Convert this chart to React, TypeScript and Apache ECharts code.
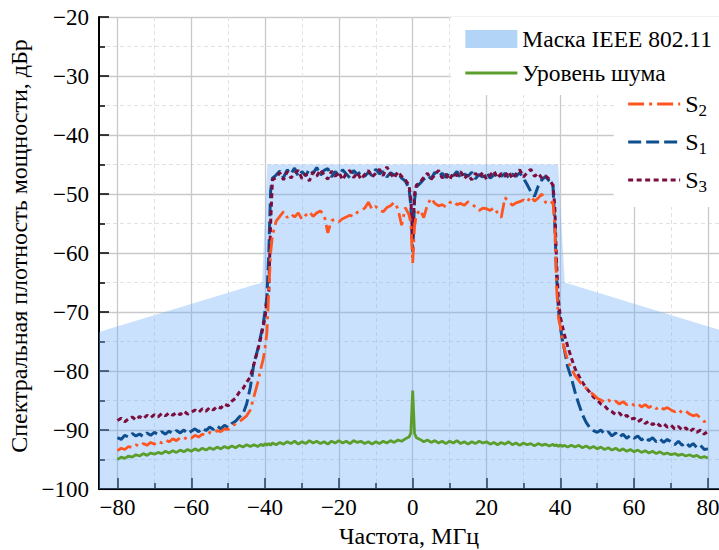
import React, { useEffect, useRef } from "react";
import * as echarts from "echarts";

// Frequency grid (MHz) shared by all measured curves
const freq = [
  -80, -79, -78, -77, -76, -75, -74, -73, -72, -71,
  -70, -69, -68, -67, -66, -65, -64, -63, -62, -61,
  -60, -59, -58, -57, -56, -55, -54, -53, -52, -51,
  -50, -49, -48, -47, -46, -45, -44,
  -43, -42, -41, -40.5, -40, -39.5, -39, -38.5, -38,
  -37, -36, -35, -34, -33, -32, -31, -30, -29, -28,
  -27, -26, -25, -24, -23, -22, -21, -20, -19, -18,
  -17, -16, -15, -14, -13, -12, -11, -10, -9, -8,
  -7, -6, -5, -4, -3, -2,
  -1, -0.5, 0, 0.5, 1,
  2, 3, 4, 5, 6, 7, 8, 9, 10, 11,
  12, 13, 14, 15, 16, 17, 18, 19, 20, 21,
  22, 23, 24, 25, 26, 27, 28, 29, 30, 31,
  32, 33, 34, 35, 36, 37,
  38, 38.5, 39, 39.5, 40, 40.5, 41, 42, 43,
  44, 45, 46, 47, 48, 49, 50, 51, 52, 53,
  54, 55, 56, 57, 58, 59, 60, 61, 62, 63,
  64, 65, 66, 67, 68, 69, 70, 71, 72, 73,
  74, 75, 76, 77, 78, 79, 80,
];

// S1 (blue, dashed)
const s1 = [
  -91.3, -91.6, -90.9, -91.2, -90.6, -91.0, -90.7, -91.1, -90.5, -90.9,
  -90.4, -90.8, -90.3, -90.7, -90.2, -90.6, -90.1, -90.5, -90.0, -90.6,
  -90.2, -89.8, -90.3, -89.7, -90.1, -89.5, -89.9, -89.3, -89.8, -89.2,
  -89.6, -88.9, -88.5, -87.8, -87.3, -85.6, -82.8,
  -78.6, -76.4, -73.5, -72.0, -69.8, -67.5, -60.0, -49.5, -47.3,
  -46.8, -46.1, -47.2, -45.9, -46.6, -45.6, -47.0, -46.2, -46.9, -45.8,
  -46.5, -45.5, -46.8, -46.0, -45.7, -47.1, -46.2, -46.9, -45.9, -46.6,
  -47.3, -46.0, -46.7, -46.2, -47.0, -46.3, -46.9, -45.8, -46.6, -46.2,
  -47.1, -46.4, -46.8, -46.5, -47.3, -47.8,
  -49.0, -52.0, -59.8, -51.0, -48.8,
  -48.2, -47.5, -46.9, -47.4, -46.3, -47.0, -46.5, -47.2, -46.4, -46.9,
  -46.2, -47.3, -46.6, -47.0, -46.3, -47.4, -46.7, -47.1, -46.4, -47.3,
  -46.8, -46.2, -47.0, -46.5, -47.2, -46.6, -47.0, -46.4, -47.3, -48.4,
  -49.6, -50.4, -48.7, -47.6, -47.0, -47.8,
  -48.5, -55.0, -64.0, -69.7, -72.5, -74.5, -76.0, -79.3, -81.2,
  -83.6, -85.6, -87.4, -88.7, -89.6, -90.1, -90.4, -90.0, -90.7, -90.3,
  -91.0, -90.5, -91.2, -90.7, -91.4, -90.9, -91.4, -91.0, -91.7, -91.2,
  -91.8, -91.3, -92.0, -91.5, -92.1, -91.6, -92.0, -92.5, -91.9, -92.6,
  -92.1, -92.8, -92.3, -93.0, -92.6, -93.3, -93.2,
];

// S2 (orange, dash-dot)
const s2 = [
  -93.5, -93.1, -93.3, -92.8, -93.0, -92.5, -92.8, -92.3, -92.6, -92.1,
  -92.4, -91.9, -92.2, -91.7, -92.0, -91.5, -91.8, -91.3, -91.6, -91.1,
  -91.4, -90.9, -91.2, -90.7, -90.9, -90.4, -90.6, -90.1, -90.3, -89.8,
  -89.9, -89.3, -89.0, -88.6, -88.1, -87.6, -86.6,
  -84.3, -82.0, -79.2, -78.0, -76.0, -73.5, -66.5, -60.0, -57.0,
  -54.6, -53.8, -53.0, -54.0, -53.4, -53.9, -53.2, -54.3, -53.6, -53.0,
  -53.8, -53.2, -52.9, -53.5, -56.6, -54.5, -54.3, -54.7, -54.2, -53.9,
  -53.6, -53.8, -53.1, -52.8, -52.4, -51.4, -52.6, -52.1, -52.8, -53.0,
  -52.3, -52.0, -51.4, -52.5, -55.3, -52.3,
  -53.5, -55.0, -61.7, -55.5, -53.5,
  -52.7, -54.0, -51.8, -50.7, -51.6, -52.0, -51.8, -52.2, -51.5, -51.2,
  -51.8, -51.6, -51.9, -51.3, -51.7, -52.2, -52.8, -52.4, -52.5, -52.8,
  -52.3, -53.2, -54.0, -50.6, -51.3, -51.9, -51.5, -51.3, -51.0, -51.4,
  -50.4, -51.2, -50.7, -50.0, -51.4, -51.8,
  -51.3, -55.0, -66.0, -71.0, -72.5, -74.6, -76.0, -78.2, -79.6,
  -80.8, -81.6, -82.4, -82.9, -83.5, -84.0, -84.6, -84.9, -85.3, -84.9,
  -85.4, -85.1, -85.6, -85.2, -85.7, -85.4, -85.8, -85.5, -86.1, -85.7,
  -86.2, -85.8, -86.4, -86.0, -86.5, -86.2, -86.6, -86.9, -86.5, -87.1,
  -86.8, -87.3, -87.6, -87.4, -88.0, -88.6, -88.3,
];

// S3 (maroon, dotted)
const s3 = [
  -88.4, -88.0, -88.6, -88.1, -87.8, -88.3, -87.7, -88.1, -87.5, -87.9,
  -87.4, -87.8, -87.2, -87.6, -87.1, -87.5, -87.0, -87.4, -86.8, -87.3,
  -87.0, -86.6, -87.0, -86.4, -86.8, -86.2, -86.6, -86.0, -86.3, -85.6,
  -85.9, -85.1, -84.6, -83.6, -83.0, -81.9, -81.0,
  -78.8, -76.5, -74.0, -72.3, -71.0, -68.0, -66.5, -55.0, -47.6,
  -47.2, -46.4, -47.6, -46.2, -47.3, -46.5, -46.0, -47.4, -46.6, -47.8,
  -46.3, -47.0, -45.9, -46.8, -47.5, -46.1, -47.0, -46.3, -47.6, -46.5,
  -46.0, -47.2, -46.4, -47.5, -46.7, -46.0, -47.1, -46.5, -45.8, -46.9,
  -45.4, -46.6, -47.3, -46.2, -47.0, -47.6,
  -48.5, -51.0, -57.5, -50.0, -48.5,
  -48.0, -47.2, -46.5, -47.5, -46.8, -46.0, -47.3, -46.6, -47.6, -46.4,
  -46.9, -46.2, -47.4, -46.7, -47.6, -46.5, -47.2, -46.3, -47.5, -46.8,
  -46.1, -47.3, -46.5, -47.0, -46.2, -47.4, -46.6, -45.9, -47.1, -46.4,
  -45.8, -47.0, -46.5, -47.3, -46.9, -47.5,
  -48.5, -52.0, -62.0, -68.0, -70.8, -72.2, -73.6, -75.8, -77.8,
  -79.6, -80.8, -81.9, -82.9, -83.6, -84.4, -84.9, -85.6, -85.9, -86.6,
  -86.9, -87.4, -87.1, -87.8, -87.5, -88.2, -88.0, -88.6, -88.2, -88.9,
  -88.5, -89.1, -88.7, -89.3, -88.9, -89.5, -89.2, -89.8, -89.4, -90.0,
  -89.6, -90.3, -89.8, -90.4, -90.0, -90.7, -90.2,
];

// Noise floor (green)
const noise = [
  -95.0, -94.6, -94.8, -94.4, -94.6, -94.2, -94.4, -94.0, -94.3, -93.9,
  -94.1, -93.8, -94.0, -93.6, -93.9, -93.5, -93.8, -93.4, -93.7, -93.3,
  -93.6, -93.2, -93.5, -93.1, -93.4, -93.0, -93.3, -92.9, -93.2, -92.8,
  -93.1, -92.7, -93.0, -92.6, -92.9, -92.5, -92.8,
  -92.5, -92.8, -92.4, -92.7, -92.3, -92.6, -92.3, -92.6, -92.2,
  -92.5, -92.1, -92.4, -92.0, -92.3, -91.9, -92.4, -92.0, -92.3, -91.8,
  -92.2, -91.9, -92.3, -92.0, -92.4, -91.9, -92.2, -91.8, -92.2, -91.9,
  -92.3, -91.8, -92.1, -91.9, -92.3, -92.0, -92.4, -92.0, -92.3, -91.9,
  -92.2, -91.8, -92.1, -91.7, -91.9, -91.5,
  -91.2, -90.5, -83.3, -90.6, -91.3,
  -91.6, -92.0, -91.7, -92.1, -91.8, -92.2, -91.9, -92.3, -91.9, -92.2,
  -91.8, -92.3, -92.0, -92.4, -92.0, -92.3, -91.9, -92.2, -92.0, -92.4,
  -92.1, -92.5, -92.1, -92.4, -92.0, -92.5, -92.2, -92.6, -92.2, -92.5,
  -92.3, -92.7, -92.3, -92.6, -92.4, -92.7,
  -92.4, -92.7, -92.5, -92.8, -92.5, -92.8, -92.6, -92.9, -92.6,
  -92.9, -92.6, -93.0, -92.7, -93.1, -92.8, -93.2, -92.9, -93.3, -93.0,
  -93.4, -93.1, -93.5, -93.2, -93.6, -93.3, -93.7, -93.4, -93.8, -93.5,
  -93.9, -93.6, -94.0, -93.7, -94.1, -93.9, -94.2, -94.0, -94.3, -94.1,
  -94.4, -94.2, -94.5, -94.3, -94.7, -94.5, -94.8,
];

// IEEE 802.11 spectral mask outline
const maskFreq = [-86, -40.8, -39.4, 39.4, 41.2, 86];
const maskLevel = [-73.6, -65, -45, -45, -65, -73.6];

const majorXTicks = [-80, -60, -40, -20, 0, 20, 40, 60, 80];
const minorXTicks = [-70, -50, -30, -10, 10, 30, 50, 70];

const NAME_MASK = "Маска IEEE 802.11";
const NAME_NOISE = "Уровень шума";

const FONT = "Liberation Serif";

const fmt = (v: number) => (v < 0 ? "\u2212" + Math.abs(v) : String(v));
const zip = (ys: number[]) => freq.map((f, i) => [f, ys[i]]);

export default function App() {
  const ref = useRef<HTMLDivElement>(null);

  useEffect(() => {
    if (!ref.current) return;
    const chart = echarts.init(ref.current, null, { renderer: "svg" });

    const xCommon = {
      type: "value" as const,
      min: -85,
      max: 83,
      position: "bottom" as const,
    };

    chart.setOption({
      animation: false,
      backgroundColor: "#fff",
      textStyle: { fontFamily: FONT },
      grid: { left: 99, top: 17, right: 0, bottom: 61, containLabel: false, outerBoundsMode: "none" },
      xAxis: [
        {
          ...xCommon,
          name: "Частота, МГц",
          nameLocation: "middle",
          nameGap: 28,
          nameTextStyle: { fontFamily: FONT, fontSize: 24, color: "#000" },
          axisLine: { show: true, onZero: false, lineStyle: { color: "#000", width: 2 } },
          axisTick: {
            show: true,
            inside: true,
            length: 11,
            customValues: majorXTicks,
            lineStyle: { color: "#000", width: 1.5 },
          },
          axisLabel: {
            show: true,
            customValues: majorXTicks,
            formatter: fmt,
            fontFamily: FONT,
            fontSize: 23,
            color: "#000",
            margin: 7,
          },
          splitLine: { show: true, lineStyle: { color: "#c9c9c9", width: 1.3 } },
        },
        {
          ...xCommon,
          axisLine: { show: false, onZero: false },
          axisTick: {
            show: true,
            inside: true,
            length: 6,
            customValues: minorXTicks,
            lineStyle: { color: "#000", width: 1.5 },
          },
          axisLabel: { show: false },
          splitLine: {
            show: true,
            lineStyle: { color: "#e2e2e2", width: 1, type: [4, 3] },
          },
        },
      ],
      yAxis: {
        type: "value",
        min: -100,
        max: -20,
        interval: 10,
        name: "Спектральная плотность мощности, дБр",
        nameLocation: "middle",
        nameGap: 62,
        nameTextStyle: { fontFamily: FONT, fontSize: 24, color: "#000", padding: [0, 0, 0, 14] },
        axisLine: { show: true, onZero: false, lineStyle: { color: "#000", width: 2 } },
        axisTick: { show: true, inside: true, length: 10, lineStyle: { color: "#000", width: 1.5 } },
        minorTick: { show: true, splitNumber: 2, length: 6, lineStyle: { color: "#000", width: 1.5 } },
        axisLabel: { formatter: fmt, fontFamily: FONT, fontSize: 23, color: "#000", margin: 10 },
        splitLine: { show: true, lineStyle: { color: "#c9c9c9", width: 1.3 } },
        minorSplitLine: { show: true, lineStyle: { color: "#e2e2e2", width: 1, type: [4, 3] } },
      },
      legend: [
        {
          data: [
            { name: NAME_MASK, icon: "rect", itemStyle: { color: "#b2d4f7", opacity: 1 } },
            { name: NAME_NOISE },
          ],
          orient: "vertical",
          right: 0,
          top: 17,
          padding: [10, 7, 10, 13],
          itemWidth: 52,
          itemHeight: 18,
          itemGap: 10,
          itemTextGap: 13,
          backgroundColor: "#fff",
          selectedMode: false,
          itemStyle: { opacity: 0 },
          lineStyle: { width: 3 },
          textStyle: { fontFamily: FONT, fontSize: 23.5, color: "#000" },
        },
        {
          data: ["S2", "S1", "S3"],
          orient: "vertical",
          right: 0,
          top: 84,
          padding: [8, 12, 12, 13],
          itemWidth: 52,
          itemHeight: 14,
          itemGap: 11,
          itemTextGap: 5,
          backgroundColor: "#fff",
          selectedMode: false,
          itemStyle: { opacity: 0 },
          lineStyle: { width: 3 },
          formatter: (name: string) => name.charAt(0) + "{sub|" + name.slice(1) + "}",
          textStyle: {
            fontFamily: FONT,
            fontSize: 24,
            color: "#000",
            rich: {
              sub: { fontFamily: FONT, fontSize: 17, color: "#000", padding: [13, 0, 0, 0] },
            },
          },
        },
      ],
      series: [
        {
          name: NAME_MASK,
          type: "line",
          data: maskFreq.map((f, i) => [f, maskLevel[i]]),
          symbol: "none",
          lineStyle: { width: 0 },
          itemStyle: { color: "#b2d4f7" },
          areaStyle: { color: "rgba(108,172,248,0.52)", origin: "start" },
          z: 1,
        },
        {
          name: NAME_NOISE,
          type: "line",
          data: zip(noise),
          symbol: "none",
          itemStyle: { color: "#5c9e2b" },
          lineStyle: { color: "#5c9e2b", width: 2.8 },
          z: 2,
        },
        {
          name: "S1",
          type: "line",
          data: zip(s1),
          symbol: "none",
          itemStyle: { color: "#0f4f8f" },
          lineStyle: { color: "#0f4f8f", width: 3, type: [13, 5] },
          z: 3,
        },
        {
          name: "S3",
          type: "line",
          data: zip(s3),
          symbol: "none",
          itemStyle: { color: "#7d0d3c" },
          lineStyle: { color: "#7d0d3c", width: 3, type: [5, 3.5] },
          z: 4,
        },
        {
          name: "S2",
          type: "line",
          data: zip(s2),
          symbol: "none",
          itemStyle: { color: "#ff5520" },
          lineStyle: { color: "#ff5520", width: 2.8, type: [16, 5, 3, 5] },
          z: 5,
        },
      ],
    });

    return () => chart.dispose();
  }, []);

  return (
    <div
      ref={ref}
      style={{ position: "absolute", left: 0, top: 0, width: 719, height: 550 }}
    />
  );
}
